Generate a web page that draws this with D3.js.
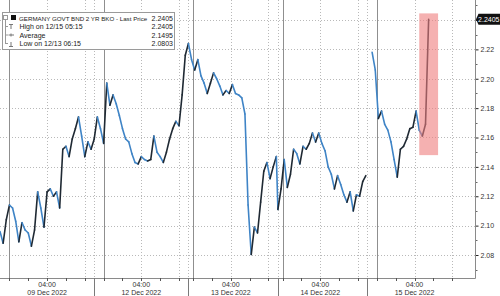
<!DOCTYPE html>
<html>
<head>
<meta charset="utf-8">
<script src="https://cdn.jsdelivr.net/npm/d3@7"></script>
<style>
body { margin: 0; background: #fff; }
svg { display: block; font-family: "Liberation Sans", Arial, sans-serif; }
</style>
</head>
<body>
<div id="chart"></div>
<script>
// sessions (hours relative to midnight of the session day)
var dayLabels = ["09 Dec 2022", "12 Dec 2022", "13 Dec 2022", "14 Dec 2022", "15 Dec 2022"]
var sessionOpen = [-1, -1, -0.5, -0.5, -1]
var sessionClose = [9, 9, 9, 9, 10.42]
var firstPoint = [-1, -1, -0.5, -0.5, -0.5]
var stepHours = 1 / 3
var gridHours = [0, 4, 8]

// yield, 20 minute samples
var s1 = [2.096, 2.088, 2.104, 2.114, 2.112, 2.103, 2.089, 2.102, 2.097, 2.095, 2.086, 2.097, 2.123, 2.112, 2.099, 2.123, 2.125, 2.120, 2.123, 2.112, 2.152, 2.154, 2.147, 2.159, 2.166, 2.174, 2.161, 2.147, 2.157, 2.152]
var s2 = [2.159, 2.174, 2.166, 2.156, 2.197, 2.182, 2.189, 2.183, 2.175, 2.166, 2.159, 2.157, 2.149, 2.143, 2.142, 2.147, 2.145, 2.144, 2.145, 2.161, 2.150, 2.147, 2.143, 2.150, 2.159, 2.166, 2.171, 2.168, 2.189, 2.216]
var s3 = [2.224, 2.213, 2.206, 2.213, 2.202, 2.197, 2.190, 2.197, 2.204, 2.200, 2.195, 2.189, 2.192, 2.190, 2.196, 2.190, 2.189, 2.187, 2.176, 2.114, 2.0803, 2.099, 2.095, 2.116, 2.137, 2.143, 2.132, 2.140, 2.147]
var s4 = [2.111, 2.125, 2.145, 2.126, 2.135, 2.152, 2.149, 2.142, 2.154, 2.152, 2.156, 2.163, 2.157, 2.163, 2.156, 2.151, 2.140, 2.135, 2.125, 2.134, 2.128, 2.121, 2.116, 2.123, 2.110, 2.121, 2.120, 2.130, 2.134]
var s5 = [2.218, 2.206, 2.173, 2.178, 2.169, 2.165, 2.157, 2.145, 2.133, 2.152, 2.154, 2.159, 2.166, 2.167, 2.178, 2.165, 2.161, 2.169, 2.2405]
var series = [s1, s2, s3, s4, s5]
var breakBefore = [4]

var yTicks = [2.08, 2.10, 2.12, 2.14, 2.16, 2.18, 2.20, 2.22, 2.24]
var yMinor = [2.07, 2.09, 2.11, 2.13, 2.15, 2.17, 2.19, 2.21, 2.23, 2.25]

var legendNames = ["GERMANY GOVT BND 2 YR BKO - Last Price", "High on 12/15 05:15", "Average", "Low on 12/13 06:15"]
var legendValues = ["2.2405", "2.2405", "2.1495", "2.0803"]
var lastPrice = 2.2405

// highlighted window: session 5, hours 4.5 - 6.5, yield 2.148 - 2.2445
var hlSession = 4, hlFrom = 4.5, hlTo = 6.5, hlLo = 2.148, hlHi = 2.2445

var width = 500, height = 296
var plotW = 475, plotH = 278

var svg = d3.select('#chart').append('svg')
	.attr('width', width)
	.attr('height', height)

// compressed time: sessions laid next to each other
var offs = [], starts = [], acc = 0
sessionOpen.forEach(function(o, i){
	offs.push(acc - o)
	starts.push(acc)
	acc += sessionClose[i] - o
})

var x = d3.scaleLinear().domain([0, acc]).range([0, plotW])
var y = d3.scaleLinear().domain([2.08 - 23 / 1468.75, 2.08 + 255 / 1468.75]).range([plotH, 0])

function tx(i, h){ return x(offs[i] + h) }

// horizontal grid
svg.append('g').selectAll('line')
	.data(yTicks)
	.enter()
	.append('line')
	.attr('x1', 0).attr('x2', plotW)
	.attr('y1', d => Math.round(y(d)) + 0.5)
	.attr('y2', d => Math.round(y(d)) + 0.5)
	.attr('stroke', '#b9b9b9')
	.attr('stroke-dasharray', '1,2')

// vertical grid (session starts, 04:00, 08:00)
var vDotted = []
starts.forEach(function(s, i){ if(i > 0) vDotted.push(x(s)) })
gridHours.forEach(function(h){
	if(h == 0) return
	sessionOpen.forEach(function(o, i){ vDotted.push(tx(i, h)) })
})
svg.append('g').selectAll('line')
	.data(vDotted)
	.enter()
	.append('line')
	.attr('x1', d => Math.round(d) + 0.5).attr('x2', d => Math.round(d) + 0.5)
	.attr('y1', 0).attr('y2', plotH)
	.attr('stroke', '#b9b9b9')
	.attr('stroke-dasharray', '1,2')

// midnight lines
svg.append('g').selectAll('line')
	.data(sessionOpen)
	.enter()
	.append('line')
	.attr('x1', (d, i) => Math.round(tx(i, 0)) + 0.5)
	.attr('x2', (d, i) => Math.round(tx(i, 0)) + 0.5)
	.attr('y1', 0).attr('y2', plotH)
	.attr('stroke', '#8f8f8f')

// price line, rising segments dark, falling blue
var pts = []
series.forEach(function(vals, i){
	vals.forEach(function(v, k){
		pts.push({x: tx(i, firstPoint[i] + k * stepHours), y: y(v), brk: k == 0 && breakBefore.indexOf(i) >= 0})
	})
})
var segs = []
for(var k = 1; k < pts.length; k++){
	if(pts[k].brk) continue
	segs.push([pts[k - 1], pts[k]])
}
svg.append('g').selectAll('line')
	.data(segs)
	.enter()
	.append('line')
	.attr('x1', d => d[0].x).attr('y1', d => d[0].y)
	.attr('x2', d => d[1].x).attr('y2', d => d[1].y)
	.attr('stroke', d => d[1].y < d[0].y ? '#1f2933' : '#3f84c6')
	.attr('stroke-width', 1.6)
	.attr('stroke-linecap', 'round')

// highlight box
svg.append('rect')
	.attr('x', tx(hlSession, hlFrom))
	.attr('y', y(hlHi))
	.attr('width', tx(hlSession, hlTo) - tx(hlSession, hlFrom))
	.attr('height', y(hlLo) - y(hlHi))
	.attr('fill', '#ef7d7d')
	.attr('opacity', 0.6)

// right axis
var yAxis = svg.append('g')
	.attr('transform', 'translate(' + (plotW + 0.5) + ',0)')
	.call(d3.axisRight(y).tickValues(yTicks).tickSize(3).tickPadding(2).tickFormat(d3.format('.2f')))
yAxis.select('.domain').remove()
yAxis.selectAll('.tick line').attr('stroke', '#222')
yAxis.selectAll('.tick text').attr('fill', '#333').attr('font-size', 7)
	.attr('font-family', '"Liberation Sans", Arial, sans-serif')
	.style('display', d => d == 2.24 ? 'none' : null)
yAxis.selectAll('.minor')
	.data(yMinor)
	.enter()
	.append('line')
	.attr('class', 'minor')
	.attr('x1', 0).attr('x2', 2)
	.attr('y1', d => Math.round(y(d)) + 0.5)
	.attr('y2', d => Math.round(y(d)) + 0.5)
	.attr('stroke', '#666')

svg.append('line')
	.attr('x1', plotW + 0.5).attr('x2', plotW + 0.5)
	.attr('y1', 0).attr('y2', plotH + 0.5)
	.attr('stroke', '#8a8a8a')

// bottom axis
svg.append('line')
	.attr('x1', 0).attr('x2', plotW + 0.5)
	.attr('y1', plotH + 0.5).attr('y2', plotH + 0.5)
	.attr('stroke', '#8a8a8a')

var xTicks = []
sessionOpen.forEach(function(o, i){
	gridHours.forEach(function(h){ xTicks.push(tx(i, h)) })
	for(var h = 2; h <= 8; h += 4) xTicks.push(tx(i, h))
})
svg.append('g').selectAll('line')
	.data(xTicks)
	.enter()
	.append('line')
	.attr('x1', d => Math.round(d) + 0.5).attr('x2', d => Math.round(d) + 0.5)
	.attr('y1', plotH).attr('y2', plotH + 3)
	.attr('stroke', '#555')

// session separators under the axis
svg.append('g').selectAll('line')
	.data(starts.slice(1))
	.enter()
	.append('line')
	.attr('x1', d => Math.round(x(d)) + 0.5).attr('x2', d => Math.round(x(d)) + 0.5)
	.attr('y1', plotH).attr('y2', height)
	.attr('stroke', '#7a7a7a')

var xl = svg.append('g').attr('font-size', 7).attr('fill', '#333').attr('text-anchor', 'middle')
dayLabels.forEach(function(lbl, i){
	xl.append('text').attr('x', tx(i, 4)).attr('y', 286.5).text('04:00')
	xl.append('text').attr('x', tx(i, 4)).attr('y', 295).text(lbl)
})

// last price tag
var cy = y(lastPrice)
svg.append('path')
	.attr('d', 'M' + (plotW + 1) + ',' + cy + 'L' + (plotW + 3.5) + ',' + (cy - 5.5) + 'L' + width + ',' + (cy - 5.5) + 'L' + width + ',' + (cy + 5.5) + 'L' + (plotW + 3.5) + ',' + (cy + 5.5) + 'Z')
	.attr('fill', '#111')
svg.append('text')
	.attr('x', width - 0.5)
	.attr('y', cy + 2.5)
	.attr('text-anchor', 'end')
	.attr('font-size', 7)
	.attr('fill', '#fff')
	.text(d3.format('.4f')(lastPrice))

// legend
var lg = svg.append('g')
lg.append('rect')
	.attr('x', 2.5).attr('y', 12.5)
	.attr('width', 172).attr('height', 37)
	.attr('fill', '#fff')
	.attr('stroke', '#9a9a9a')

var rowY = [20.5, 29, 37.5, 46]
lg.append('rect').attr('x', 3.5).attr('y', 15.5).attr('width', 4).attr('height', 4).attr('fill', 'none').attr('stroke', '#999')
lg.append('rect').attr('x', 11).attr('y', 15).attr('width', 5).attr('height', 5).attr('fill', '#111')
lg.append('line').attr('x1', 5.5).attr('x2', 5.5).attr('y1', 20).attr('y2', 44).attr('stroke', '#999')
rowY.slice(1).forEach(function(ry){
	lg.append('line').attr('x1', 5.5).attr('x2', 8).attr('y1', ry - 2.5).attr('y2', ry - 2.5).attr('stroke', '#999')
})
// high / average / low glyphs
lg.append('path').attr('d', 'M9,24.5H13M11,24.5V29').attr('stroke', '#777').attr('fill', 'none')
lg.append('path').attr('d', 'M8.5,35H14M11,33.5V36.5').attr('stroke', '#777').attr('fill', 'none')
lg.append('path').attr('d', 'M9,46.5H13M11,42V46.5').attr('stroke', '#777').attr('fill', 'none')

legendNames.forEach(function(t, i){
	lg.append('text')
		.attr('x', i == 0 ? 19 : 19.5)
		.attr('y', rowY[i])
		.attr('font-size', i == 0 ? 6.2 : 7)
		.attr('fill', '#1a1a1a')
		.text(t)
	lg.append('text')
		.attr('x', 173)
		.attr('y', rowY[i])
		.attr('text-anchor', 'end')
		.attr('font-size', 7)
		.attr('fill', '#1a1a1a')
		.text(legendValues[i])
})
</script>
</body>
</html>
